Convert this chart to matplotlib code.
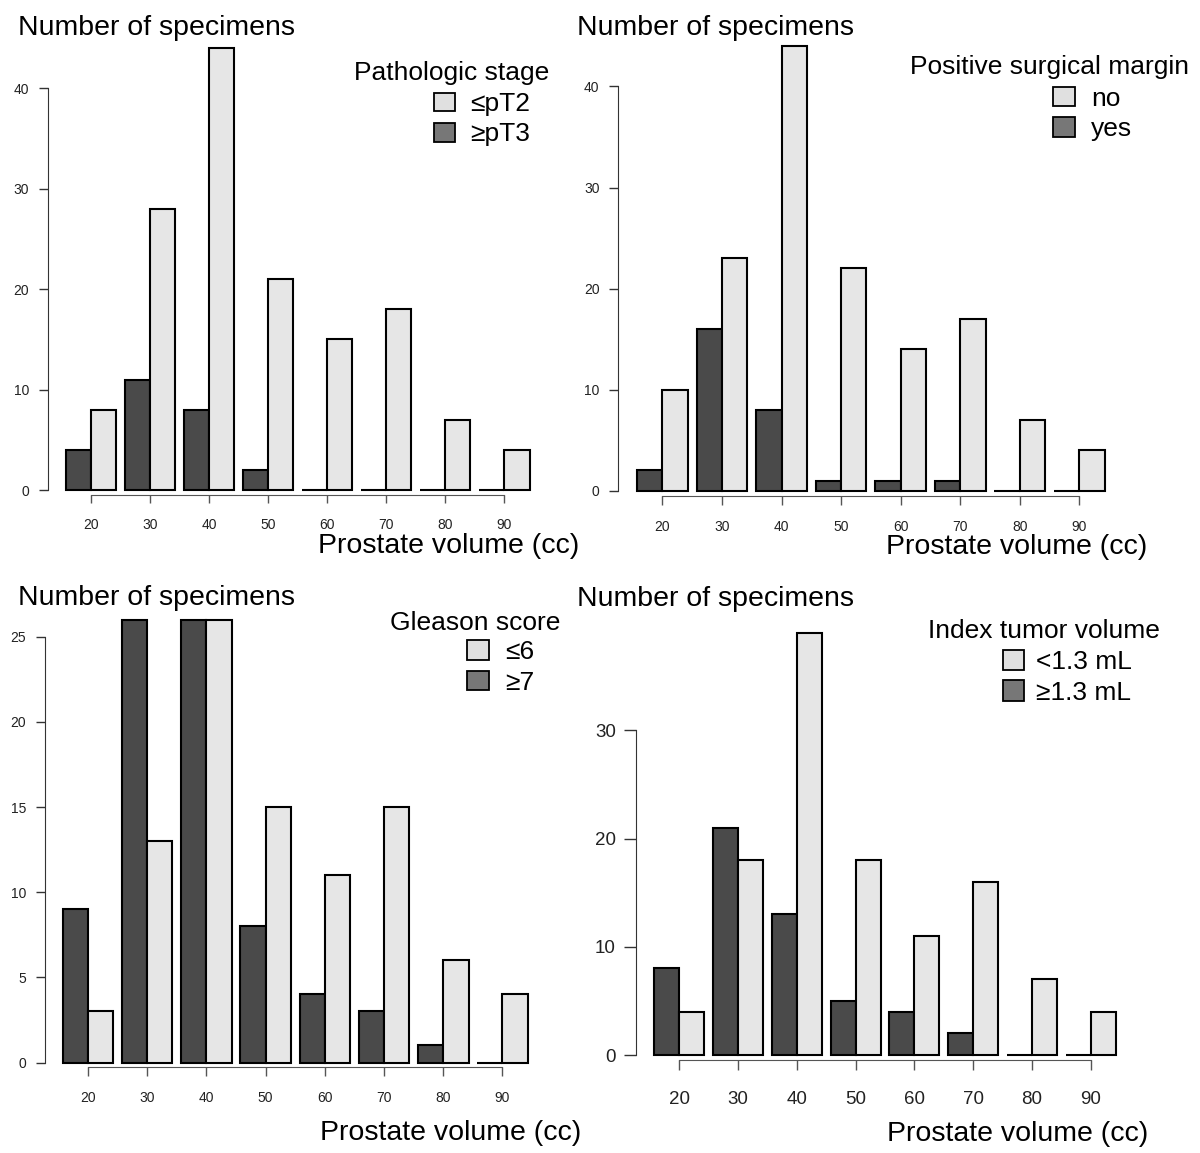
import matplotlib
matplotlib.use('Agg')
import matplotlib.pyplot as plt
from matplotlib.patches import Rectangle
import numpy as np

plt.rcParams['font.family'] = ['Liberation Sans', 'DejaVu Sans']

# ---------------- data ----------------
volumes = [20, 30, 40, 50, 60, 70, 80, 90]

stage_le_pT2 = [8, 28, 44, 21, 15, 18, 7, 4]
stage_ge_pT3 = [4, 11, 8, 2, 0, 0, 0, 0]

margin_no = [10, 23, 44, 22, 14, 17, 7, 4]
margin_yes = [2, 16, 8, 1, 1, 1, 0, 0]

gleason_le6 = [3, 13, 26, 15, 11, 15, 6, 4]
gleason_ge7 = [9, 26, 26, 8, 4, 3, 1, 0]

tumor_lt13 = [4, 18, 39, 18, 11, 16, 7, 4]
tumor_ge13 = [8, 21, 13, 5, 4, 2, 0, 0]

yticks_stage = [0, 10, 20, 30, 40]
yticks_margin = [0, 10, 20, 30, 40]
yticks_gleason = [0, 5, 10, 15, 20, 25]
yticks_tumor = [0, 10, 20, 30]

ylabel = "Number of specimens"
xlabel = "Prostate volume (cc)"

# ---------------- style ----------------
W, H = 1200, 1153
DARK = '#4a4a4a'
LIGHT = '#e6e6e6'
LEG_DARK = '#777777'
LEG_LIGHT = '#e0e0e0'
BW = 0.426

fig = plt.figure(figsize=(W / 100, H / 100), dpi=100)


def fx(x):
    return x / W


def fy(y):
    return 1 - y / H


def panel(L, dark, light, yticks, leg_title, leg_labels):
    sp = (L['t90'] - L['t20']) / 7.0
    right = L['t90'] + 0.85 * sp
    ytop = L['y0'] - (L['y0'] - L['yref']) * yticks[-1] / L['yrefv']
    ax = fig.add_axes([fx(L['yax']), fy(L['y0']),
                       (right - L['yax']) / W, (L['y0'] - ytop) / H])
    ax.set_xlim((L['yax'] - L['t20']) / sp, 7.85)
    ax.set_ylim(0, yticks[-1])
    x = np.arange(len(volumes))
    ax.bar(x - BW, dark, BW, align='edge', color=DARK, edgecolor='black',
           linewidth=1.5, clip_on=False, zorder=3)
    ax.bar(x, light, BW, align='edge', color=LIGHT, edgecolor='black',
           linewidth=1.5, clip_on=False, zorder=3)
    ax.patch.set_visible(False)
    for s in ['top', 'right']:
        ax.spines[s].set_visible(False)
    ax.spines['left'].set_bounds(0, yticks[-1])
    ax.spines['left'].set_color('#333333')
    ax.spines['bottom'].set_position(('outward', (L['xax'] - L['y0']) * 0.72))
    ax.spines['bottom'].set_bounds(0, 7)
    ax.spines['bottom'].set_color('#555555')
    ax.set_yticks(yticks)
    ax.set_yticklabels([str(v) for v in yticks])
    ax.set_xticks(x)
    ax.set_xticklabels([str(v) for v in volumes])
    ax.tick_params(axis='y', length=L['ytl'] * 0.72, width=1, color='#333333',
                   pad=L['ypad'], labelsize=L['fs'], labelcolor='#222222')
    ax.tick_params(axis='x', length=L['xtl'] * 0.72, width=1, color='#555555',
                   pad=L['xpad'], labelsize=L['fs'], labelcolor='#222222')
    # titles
    fig.text(fx(L['tl_x']), fy(L['tl_y']), ylabel, ha='left', va='baseline',
             fontsize=20.5)
    fig.text(fx(L['xl_x']), fy(L['xl_y']), xlabel, ha='right', va='baseline',
             fontsize=20.5)
    # legend
    fig.text(fx(L['lg_tx']), fy(L['lg_ty'] + 2), leg_title, ha='center', va='center',
             fontsize=19)
    bx0, bx1 = L['lg_bx']
    for (y0, y1), lab, col in zip(L['lg_by'], leg_labels, [LEG_LIGHT, LEG_DARK]):
        fig.add_artist(Rectangle((fx(bx0), fy(y1)), (bx1 - bx0) / W, (y1 - y0) / H,
                                 transform=fig.transFigure, facecolor=col,
                                 edgecolor='black', linewidth=1.3))
        fig.text(fx(L['lg_lx']), fy((y0 + y1) / 2 + 2), lab, ha='left', va='center',
                 fontsize=19)
    return ax


L1 = dict(yax=48, y0=490, yref=88.3, yrefv=40, t20=90.7, t90=504.4, xax=495,
          ytl=9, ypad=7, xtl=8, xpad=10.5, fs=10,
          tl_x=18, tl_y=35, xl_x=579, xl_y=553,
          lg_tx=452, lg_ty=71, lg_bx=(433.6, 455.4),
          lg_by=[(92.7, 110.9), (122.9, 141.8)], lg_lx=470)
L2 = dict(yax=618.2, y0=490.7, yref=86.5, yrefv=40, t20=662.4, t90=1079.4, xax=496.2,
          ytl=9, ypad=7, xtl=9, xpad=10.5, fs=10,
          tl_x=577, tl_y=35, xl_x=1147, xl_y=554,
          lg_tx=1050, lg_ty=65.4, lg_bx=(1053, 1075),
          lg_by=[(87.2, 106.1), (117, 136.7)], lg_lx=1091)
L3 = dict(yax=44.8, y0=1062.5, yref=636.7, yrefv=25, t20=88, t90=502.5, xax=1067.2,
          ytl=9, ypad=7, xtl=9, xpad=10.5, fs=10,
          tl_x=18, tl_y=605, xl_x=581, xl_y=1140,
          lg_tx=475, lg_ty=621, lg_bx=(467, 489),
          lg_by=[(639.6, 659.7), (670.6, 690.4)], lg_lx=505)
L4 = dict(yax=636.3, y0=1055.1, yref=730.2, yrefv=30, t20=679.3, t90=1090.7, xax=1059.5,
          ytl=12, ypad=6, xtl=10, xpad=15.5, fs=13.5,
          tl_x=577, tl_y=606, xl_x=1148.5, xl_y=1140.6,
          lg_tx=1043.5, lg_ty=629.3, lg_bx=(1002.7, 1024),
          lg_by=[(650, 670), (680.5, 700.6)], lg_lx=1036)

panel(L1, stage_ge_pT3, stage_le_pT2, yticks_stage, "Pathologic stage", ["≤pT2", "≥pT3"])
panel(L2, margin_yes, margin_no, yticks_margin, "Positive surgical margin", ["no", "yes"])
panel(L3, gleason_ge7, gleason_le6, yticks_gleason, "Gleason score", ["≤6", "≥7"])
panel(L4, tumor_ge13, tumor_lt13, yticks_tumor, "Index tumor volume", ["<1.3 mL", "≥1.3 mL"])

fig.savefig('out.png', dpi=100)
